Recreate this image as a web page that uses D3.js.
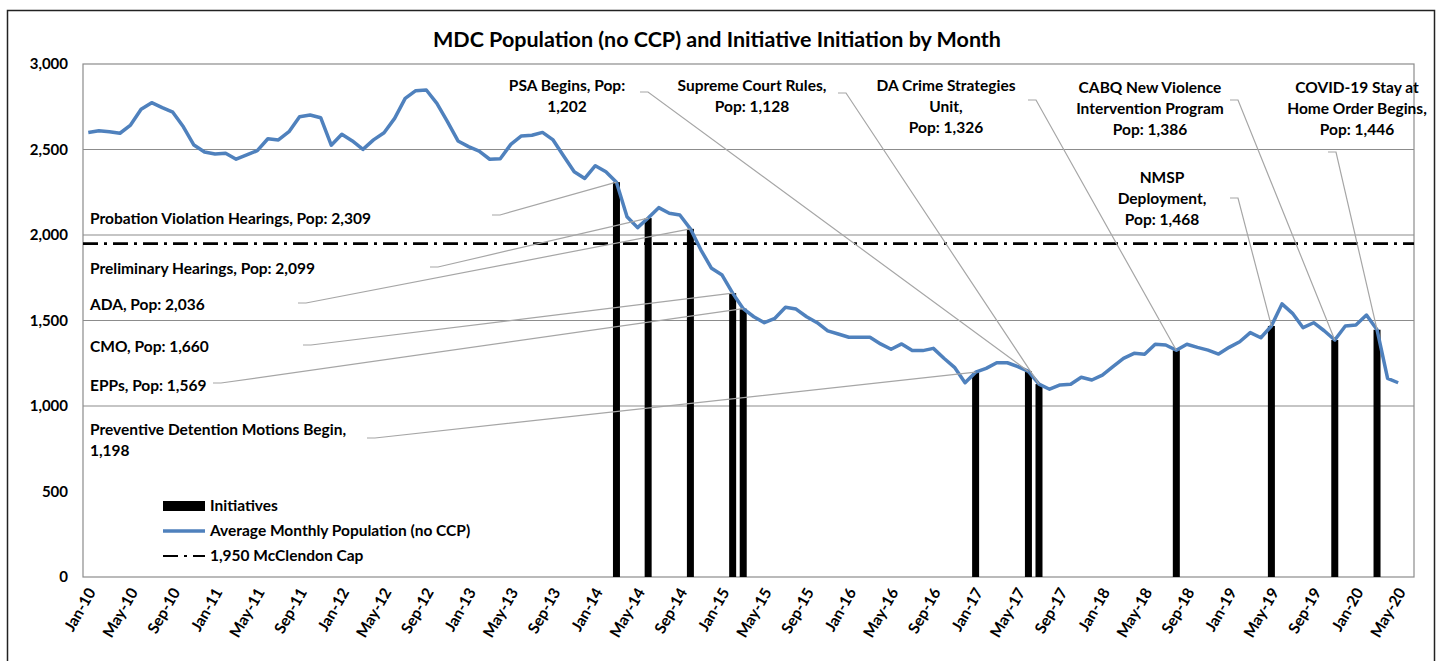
<!DOCTYPE html>
<html><head><meta charset="utf-8">
<script src="https://cdn.jsdelivr.net/npm/d3@7/dist/d3.min.js"></script>
<style>
body{margin:0;background:#fff;}
text{font-family:Lato,"Open Sans",sans-serif;font-weight:bold;fill:#000;}
</style></head><body>
<svg id="c" width="1442" height="661"></svg>
<script>
// ---- data ----
const monthNames = ["Jan","Feb","Mar","Apr","May","Jun","Jul","Aug","Sep","Oct","Nov","Dec"];
const months = [];
for (let y = 10; y <= 20; y++) for (let m = 0; m < 12; m++) { if (y === 20 && m > 5) break; months.push(monthNames[m] + "-" + y); }
// Average monthly population (no CCP), Jan-10 .. May-20
const population = [
 2600,2610,2604,2595,2643,2735,2774,2745,2718,2633,2526,2485,
 2474,2478,2443,2468,2493,2563,2556,2604,2692,2702,2686,2525,
 2589,2550,2501,2556,2598,2682,2799,2844,2848,2770,2663,2550,
 2517,2491,2443,2446,2530,2579,2583,2600,2556,2462,2370,2331,
 2405,2370,2309,2107,2043,2099,2160,2127,2117,2036,1912,1805,
 1766,1660,1569,1522,1487,1513,1577,1567,1522,1487,1439,1421,
 1402,1402,1402,1363,1332,1363,1324,1324,1337,1279,1226,1136,
 1198,1220,1253,1253,1230,1202,1128,1098,1123,1127,1168,1152,
 1181,1230,1279,1308,1302,1361,1357,1326,1361,1343,1327,1304,
 1343,1376,1429,1399,1468,1597,1542,1458,1487,1440,1386,1468,
 1474,1532,1446,1162,1136
];
const capValue = 1950;
// Initiatives (month, population, label lines)
const initMonths = ["Mar-14","Jun-14","Oct-14","Feb-15","Mar-15","Jan-17","Jun-17","Jul-17","Aug-18","May-19","Nov-19","Mar-20"];
const initValues = [2309,2099,2036,1660,1569,1198,1202,1128,1326,1468,1386,1446];
const initLabels = [
 ["Probation Violation Hearings, Pop: 2,309"],
 ["Preliminary Hearings, Pop: 2,099"],
 ["ADA, Pop: 2,036"],
 ["CMO, Pop: 1,660"],
 ["EPPs, Pop: 1,569"],
 ["Preventive Detention Motions Begin,","1,198"],
 ["PSA Begins, Pop:","1,202"],
 ["Supreme Court Rules,","Pop: 1,128"],
 ["DA Crime Strategies","Unit,","Pop: 1,326"],
 ["NMSP","Deployment,","Pop: 1,468"],
 ["CABQ New Violence","Intervention Program","Pop: 1,386"],
 ["COVID-19 Stay at","Home Order Begins,","Pop: 1,446"]
];
const yTicks = [0,500,1000,1500,2000,2500,3000];
const gridValues = [1000,1500,2000,2500];
const legendItems = ["Initiatives","Average Monthly Population (no CCP)","1,950 McClendon Cap"];
const chartTitle = "MDC Population (no CCP)  and Initiative Initiation by Month";

// ---- layout (positions only) ----
const labelLayout = [ // text anchor x, first baseline y, anchor, leader start [x,y]
 {x:90,y:224,a:"start",s:[492,215]},
 {x:90,y:274,a:"start",s:[430,267]},
 {x:90,y:310,a:"start",s:[298,303]},
 {x:90,y:352,a:"start",s:[303,345]},
 {x:90,y:391,a:"start",s:[213,383]},
 {x:90,y:435,a:"start",s:[367,438]},
 {x:567,y:91,a:"middle",s:[640,92]},
 {x:752,y:91,a:"middle",s:[838,93]},
 {x:946,y:91,a:"middle",s:[1028,100]},
 {x:1162,y:183,a:"middle",s:[1230,198]},
 {x:1150,y:93,a:"middle",s:[1230,100]},
 {x:1357,y:93,a:"middle",s:[1328,152]}
];
const fs = "15.5px";

const svg = d3.select("#c");
const L = 83, R = 1414, T = 64, B = 577;
const x = d3.scaleBand().domain(months).range([L, R]).padding(0);
const cx = m => x(m) + x.bandwidth() / 2;
const y = d3.scaleLinear().domain([0, 3000]).range([B, T]);

// outer frame
svg.append("rect").attr("x",7.5).attr("y",10.5).attr("width",1427).attr("height",700)
  .attr("fill","none").attr("stroke","#222").attr("stroke-width",1.5);

// title
svg.append("text").attr("x",717).attr("y",47).attr("text-anchor","middle")
  .style("font-size","21.5px").text(chartTitle);

// grid
svg.append("g").selectAll("line").data(gridValues).join("line")
  .attr("x1",L).attr("x2",R).attr("y1",d=>y(d)).attr("y2",d=>y(d))
  .attr("stroke","#8c8c8c").attr("stroke-width",1.2);
// plot border
svg.append("rect").attr("x",L).attr("y",T).attr("width",R-L).attr("height",B-T)
  .attr("fill","none").attr("stroke","#8c8c8c").attr("stroke-width",1.2);

// y axis
const yAxis = d3.axisLeft(y).tickValues(yTicks).tickFormat(d3.format(",")).tickSize(0).tickPadding(15);
const gy = svg.append("g").attr("transform",`translate(${L},0)`).call(yAxis);
gy.select(".domain").remove();
gy.selectAll("text").style("font-size","15px").style("font-family","Lato,sans-serif").attr("fill","#000");

// x axis
const xAxis = d3.axisBottom(x).tickValues(months.filter((d,i)=>i%4===0)).tickSize(0).tickPadding(0);
const gx = svg.append("g").attr("transform",`translate(0,${B})`).call(xAxis);
gx.select(".domain").remove();
gx.selectAll("text").style("font-size","15.5px").style("font-family","Lato,sans-serif").attr("fill","#000")
  .attr("text-anchor","end").attr("dy","0").attr("y",0)
  .attr("transform","translate(8,15) rotate(-60)");

// cap line
const capDash = "15,6,3,6";
svg.append("line").attr("x1",L).attr("x2",R).attr("y1",y(capValue)).attr("y2",y(capValue))
  .attr("stroke","#000").attr("stroke-width",2.7).attr("stroke-dasharray",capDash);

// bars
const barW = 7;
svg.append("g").selectAll("rect").data(initMonths).join("rect")
  .attr("x",d=>cx(d)-barW/2).attr("width",barW)
  .attr("y",(d,i)=>y(initValues[i])).attr("height",(d,i)=>B-y(initValues[i]))
  .attr("fill","#000");

// line
const line = d3.line().x((d,i)=>cx(months[i])).y(d=>y(d));
svg.append("path").datum(population).attr("d",line).attr("fill","none")
  .attr("stroke","#4f81bd").attr("stroke-width",3.5).attr("stroke-linejoin","round");

// leader lines
svg.append("g").selectAll("path").data(initMonths).join("path")
  .attr("d",(d,i)=>{const s=labelLayout[i].s; const dir = (labelLayout[i].s[0] < cx(d)) ? 8 : -8;
     return d3.line()([s,[s[0]+dir,s[1]],[cx(d),y(initValues[i])]]);})
  .attr("fill","none").attr("stroke","#a6a6a6").attr("stroke-width",1.2);

// labels
const lg = svg.append("g");
initLabels.forEach((lines,i)=>{
  const lay = labelLayout[i];
  const t = lg.append("text").attr("x",lay.x).attr("y",lay.y).attr("text-anchor",lay.a).style("font-size",fs);
  lines.forEach((s,j)=>t.append("tspan").attr("x",lay.x).attr("dy",j?21:0).text(s));
});

// legend
const leg = svg.append("g").attr("transform","translate(163,0)");
const ly = [506,531,556];
leg.append("rect").attr("x",0).attr("y",ly[0]-5).attr("width",42).attr("height",10).attr("fill","#000");
leg.append("line").attr("x1",0).attr("x2",42).attr("y1",ly[1]).attr("y2",ly[1]).attr("stroke","#4f81bd").attr("stroke-width",3.5);
leg.append("line").attr("x1",0).attr("x2",42).attr("y1",ly[2]).attr("y2",ly[2]).attr("stroke","#000").attr("stroke-width",2).attr("stroke-dasharray",capDash);
leg.selectAll("text.l").data(legendItems).join("text").attr("class","l")
  .attr("x",47).attr("y",(d,i)=>ly[i]+5).style("font-size",fs).text(d=>d);
</script></body></html>
